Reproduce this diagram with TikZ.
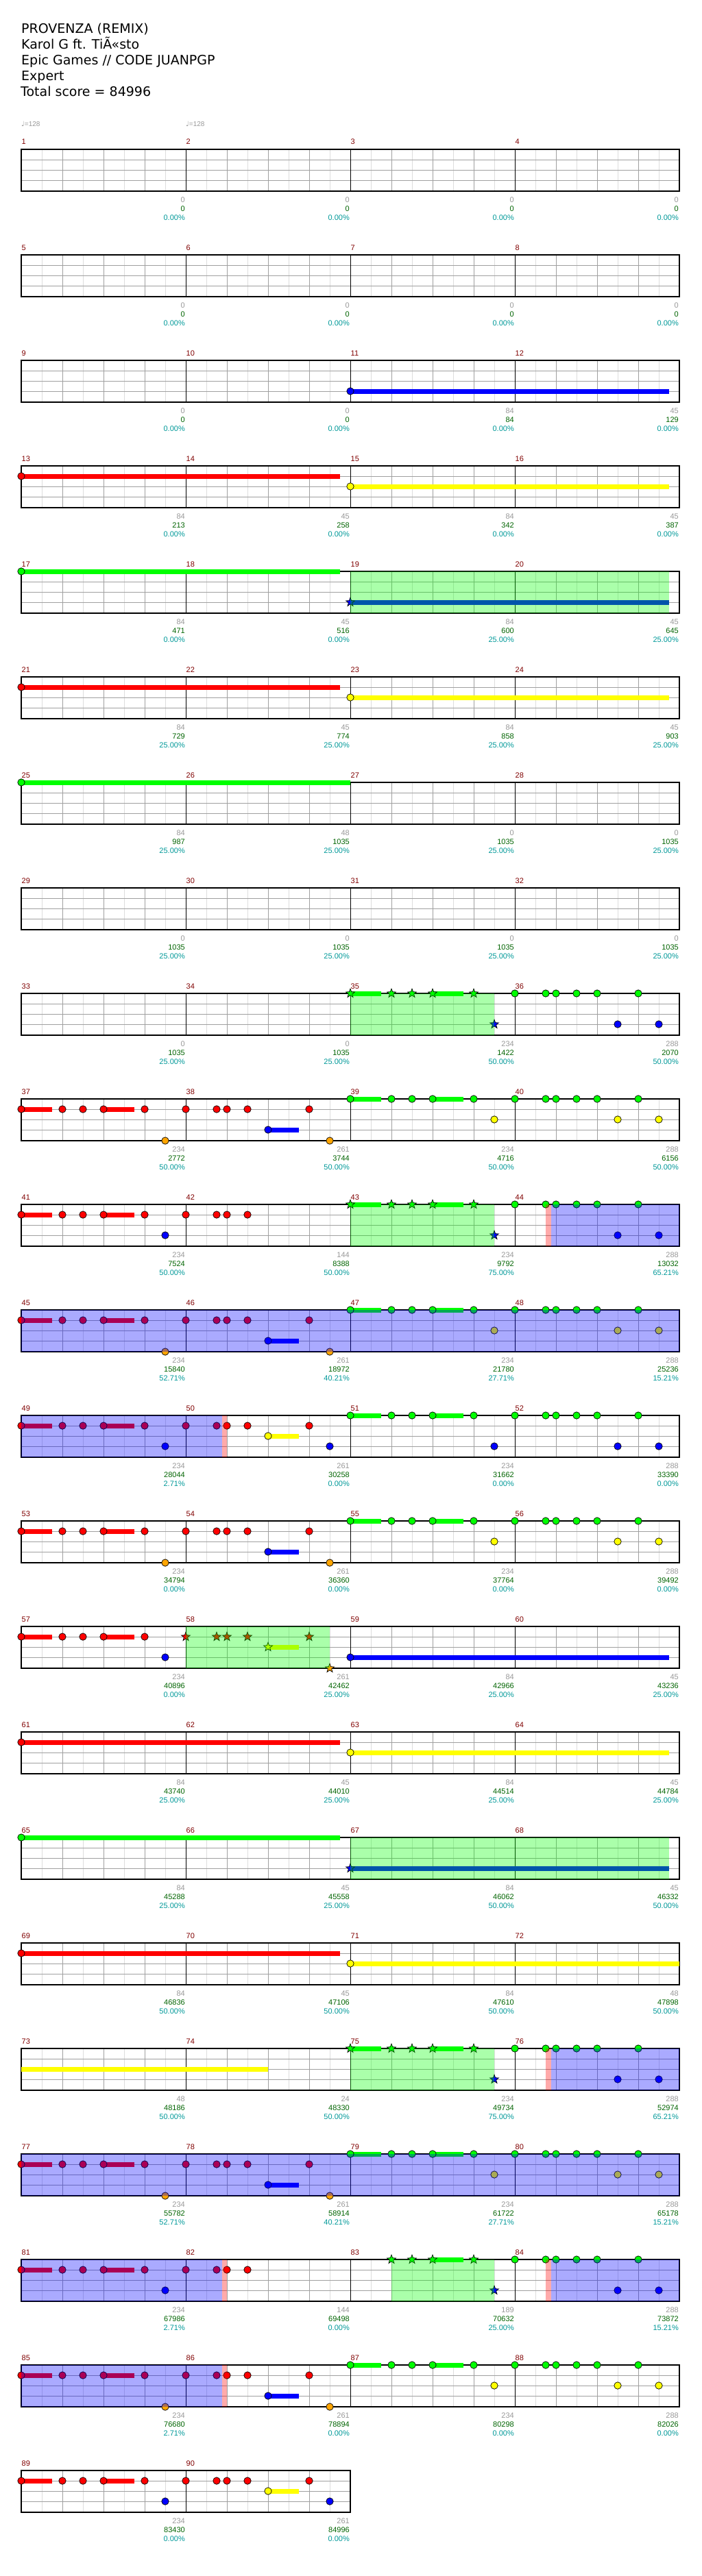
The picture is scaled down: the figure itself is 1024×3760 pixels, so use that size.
\documentclass[tikz,border=0pt]{standalone}
\usepackage{fontspec}
\setmainfont{DejaVu Sans}
\newfontfamily\chartfont{Liberation Sans}
\newfontfamily\glyphfont{DejaVu Sans}
\usepackage{tikz}
\usetikzlibrary{positioning}
\definecolor{fretgreen}{RGB}{0,255,0}
\definecolor{fretred}{RGB}{255,0,0}
\definecolor{fretyellow}{RGB}{255,255,0}
\definecolor{fretblue}{RGB}{0,0,255}
\definecolor{fretorange}{RGB}{255,165,0}
\definecolor{barred}{RGB}{128,0,0}
\definecolor{statgrey}{RGB}{153,153,153}
\definecolor{statgreen}{RGB}{0,100,0}
\definecolor{statteal}{RGB}{0,153,153}
\definecolor{gridlt}{RGB}{221,221,221}
\definecolor{gridmd}{RGB}{160,160,160}
\tikzset{
  titletext/.style={anchor=base west,inner sep=0,font=\fontsize{19}{23}\selectfont},
  tempotext/.style={anchor=base west,inner sep=0,text=statgrey,font=\chartfont\fontsize{10}{12}\selectfont},
  barnum/.style={anchor=base west,inner sep=0,text=barred,font=\chartfont\fontsize{11}{13}\selectfont},
  statline/.style={anchor=base east,inner sep=0,font=\chartfont\fontsize{11}{13}\selectfont},
  gridlight/.style={draw=gridlt,line width=1},
  gridbeat/.style={draw=gridmd,line width=1},
  barline/.style={draw=black,line width=0.9},
  staffframe/.style={draw=black,line width=1.3},
  gemline/.style={draw=black,line width=0.7},
  spzone/.style={fill=fretgreen,fill opacity=0.333},
  odzone/.style={fill=fretblue,fill opacity=0.333},
  odedge/.style={fill=fretred,fill opacity=0.333},
  rowat/.style={shift={(31,{218+154*#1})}}
}
\newcommand{\gemdot}[3]{\filldraw[gemline,fill=#1] (#2,#3) circle (5.2);}
\newcommand{\gemstar}[3]{\filldraw[gemline,fill=#1,shift={(#2,#3)}] (-90:6.8) -- (-54:2.8) -- (-18:6.8) -- (18:2.8)
  -- (54:6.8) -- (90:2.8) -- (126:6.8) -- (162:2.8) -- (198:6.8) -- (234:2.8) -- cycle;}
\newcommand{\sustain}[4]{\fill[#1] (#2,#3-3.5) rectangle ({#2+#4},{#3+3.5});}
\newcommand{\callrun}[4]{\sustain{#3}{#1}{#2}{45}\sustain{#3}{#1+120}{#2}{45}%
  \foreach \dt in {0,60,90,120,180}{#4{#3}{#1+\dt}{#2}}}
\newcommand{\replyred}[1]{\foreach \dt in {0,45,60,90}{\gemdot{fretred}{#1+\dt}{15}}}
\newcommand{\replygreen}[3]{\foreach \dt in {0,45,60,90,120,180}{\gemdot{fretgreen}{#1+\dt}{0}}%
  \gemdot{#2}{#1+150}{#3}\gemdot{#2}{#1+210}{#3}}
\newcommand{\halfA}{\callrun{0}{15}{fretred}{\gemdot}\gemdot{fretorange}{210}{61}%
  \replyred{240}\gemdot{fretred}{420}{15}%
  \sustain{fretblue}{360}{45}{45}\gemdot{fretblue}{360}{45}\gemdot{fretorange}{450}{61}}
\newcommand{\halfB}[2]{\callrun{480}{0}{fretgreen}{\gemdot}\gemdot{#1}{690}{#2}\replygreen{720}{#1}{#2}}
\newcommand{\halfC}{\callrun{0}{15}{fretred}{\gemdot}\gemdot{fretblue}{210}{45}%
  \replyred{240}\gemdot{fretred}{420}{15}%
  \sustain{fretyellow}{360}{30}{45}\gemdot{fretyellow}{360}{30}\gemdot{fretblue}{450}{45}}
\newcommand{\starturn}{\callrun{480}{0}{fretgreen}{\gemstar}\gemstar{fretblue}{690}{45}%
  \replygreen{720}{fretblue}{45}}
\newcommand{\tallyrow}[2]{%
  \begin{scope}[rowat=#1]
    \foreach \ptsv/\totv/\pctv [count=\k] in {#2}{%
      \node[statline,text=statgrey] (pts#1-\k) at (240*\k-1,77) {\ptsv};
      \node[statline,text=statgreen] (tot#1-\k) at (240*\k-1,90) {\totv};
      \node[statline,text=statteal] (pct#1-\k) at (240*\k-1,103) {\pctv\%};
    }
  \end{scope}}

\begin{document}
\begin{tikzpicture}[x=1pt,y=-1pt]
  \fill[white] (0,0) rectangle (1024,3760);
  \useasboundingbox (0,0) rectangle (1024,3760);
  \node[titletext] (songname) at (31,49) {PROVENZA (REMIX)};
  \node[titletext] (artist) at (31,72) {Karol G ft. TiÃ«sto};
  \node[titletext] (charter) at (31,95) {Epic Games // CODE JUANPGP};
  \node[titletext] (difficulty) at (31,118) {Expert};
  \node[titletext] (totalscore) at (30,141) {Total score = 84996};
  \node[tempotext] (tempo1) at (31,185) {{\glyphfont ♩}=128};
  \node[tempotext] (tempo2) at (271,185) {{\glyphfont ♩}=128};

  \foreach \r in {0,...,22}{
    \pgfmathtruncatemacro\n{\r==22 ? 2 : 4}
    \begin{scope}[rowat=\r]
      \pgfmathsetmacro\w{240*\n}
      \foreach \x in {30,90,...,\w}{\draw[gridlight] (\x,0) -- (\x,61);}
      \foreach \x in {60,120,...,\w}{\draw[gridbeat] (\x,0) -- (\x,61);}
      \foreach \y in {15,30,45}{\draw[gridbeat] (0,\y) -- (\w,\y);}
      \foreach \k in {1,...,\n}{
        \pgfmathsetmacro\mx{240*(\k-1)}
        \pgfmathtruncatemacro\num{4*\r+\k}
        \draw[barline] (\mx,0) -- (\mx,61);
        \node[barnum] (bar\num) at (\mx+0.5,-7) {\num};
      }
      \draw[staffframe] (0,0) rectangle (\w,61);
    \end{scope}
  }

  \begin{scope}[rowat=2]
    \sustain{fretblue}{480}{45}{465}\gemdot{fretblue}{480}{45}
  \end{scope}
  \begin{scope}[rowat=3]
    \sustain{fretred}{0}{15}{465}\gemdot{fretred}{0}{15}
    \sustain{fretyellow}{480}{30}{465}\gemdot{fretyellow}{480}{30}
  \end{scope}
  \begin{scope}[rowat=4]
    \sustain{fretgreen}{0}{0}{465}\gemdot{fretgreen}{0}{0}
    \sustain{fretblue}{480}{45}{465}\gemstar{fretblue}{480}{45}
    \fill[spzone] (480,0) rectangle (945,61);
  \end{scope}
  \begin{scope}[rowat=5]
    \sustain{fretred}{0}{15}{465}\gemdot{fretred}{0}{15}
    \sustain{fretyellow}{480}{30}{465}\gemdot{fretyellow}{480}{30}
  \end{scope}
  \begin{scope}[rowat=6]
    \sustain{fretgreen}{0}{0}{480}\gemdot{fretgreen}{0}{0}
  \end{scope}
  \begin{scope}[rowat=8]
    \starturn
    \fill[spzone] (480,0) rectangle (690,61);
  \end{scope}
  \begin{scope}[rowat=9]
    \halfA\halfB{fretyellow}{30}
  \end{scope}
  \begin{scope}[rowat=10]
    \callrun{0}{15}{fretred}{\gemdot}\gemdot{fretblue}{210}{45}\replyred{240}
    \starturn
    \fill[spzone] (480,0) rectangle (690,61);
    \fill[odedge] (765,0) rectangle (772.5,61);
    \fill[odzone] (772.5,0) rectangle (960,61);
  \end{scope}
  \begin{scope}[rowat=11]
    \halfA\halfB{fretyellow}{30}
    \fill[odzone] (0,0) rectangle (960,61);
  \end{scope}
  \begin{scope}[rowat=12]
    \halfC\halfB{fretblue}{45}
    \fill[odzone] (0,0) rectangle (292.5,61);
    \fill[odedge] (292.5,0) rectangle (300,61);
  \end{scope}
  \begin{scope}[rowat=13]
    \halfA\halfB{fretyellow}{30}
  \end{scope}
  \begin{scope}[rowat=14]
    \callrun{0}{15}{fretred}{\gemdot}\gemdot{fretblue}{210}{45}
    \foreach \dt in {0,45,60,90,180}{\gemstar{fretred}{240+\dt}{15}}
    \sustain{fretyellow}{360}{30}{45}\gemstar{fretyellow}{360}{30}
    \gemstar{fretorange}{450}{61}
    \sustain{fretblue}{480}{45}{465}\gemdot{fretblue}{480}{45}
    \fill[spzone] (240,0) rectangle (450,61);
  \end{scope}
  \begin{scope}[rowat=15]
    \sustain{fretred}{0}{15}{465}\gemdot{fretred}{0}{15}
    \sustain{fretyellow}{480}{30}{465}\gemdot{fretyellow}{480}{30}
  \end{scope}
  \begin{scope}[rowat=16]
    \sustain{fretgreen}{0}{0}{465}\gemdot{fretgreen}{0}{0}
    \sustain{fretblue}{480}{45}{465}\gemstar{fretblue}{480}{45}
    \fill[spzone] (480,0) rectangle (945,61);
  \end{scope}
  \begin{scope}[rowat=17]
    \sustain{fretred}{0}{15}{465}\gemdot{fretred}{0}{15}
    \sustain{fretyellow}{480}{30}{480}\gemdot{fretyellow}{480}{30}
  \end{scope}
  \begin{scope}[rowat=18]
    \sustain{fretyellow}{0}{30}{360}
    \starturn
    \fill[spzone] (480,0) rectangle (690,61);
    \fill[odedge] (765,0) rectangle (772.5,61);
    \fill[odzone] (772.5,0) rectangle (960,61);
  \end{scope}
  \begin{scope}[rowat=19]
    \halfA\halfB{fretyellow}{30}
    \fill[odzone] (0,0) rectangle (960,61);
  \end{scope}
  \begin{scope}[rowat=20]
    \callrun{0}{15}{fretred}{\gemdot}\gemdot{fretblue}{210}{45}\replyred{240}
    \sustain{fretgreen}{600}{0}{45}
    \foreach \dt in {60,90,120,180}{\gemstar{fretgreen}{480+\dt}{0}}
    \gemstar{fretblue}{690}{45}\replygreen{720}{fretblue}{45}
    \fill[spzone] (540,0) rectangle (690,61);
    \fill[odzone] (0,0) rectangle (292.5,61);
    \fill[odedge] (292.5,0) rectangle (300,61);
    \fill[odedge] (765,0) rectangle (772.5,61);
    \fill[odzone] (772.5,0) rectangle (960,61);
  \end{scope}
  \begin{scope}[rowat=21]
    \halfA\halfB{fretyellow}{30}
    \fill[odzone] (0,0) rectangle (292.5,61);
    \fill[odedge] (292.5,0) rectangle (300,61);
  \end{scope}
  \begin{scope}[rowat=22]
    \halfC
  \end{scope}

  \tallyrow{0}{0/0/0.00,0/0/0.00,0/0/0.00,0/0/0.00}
  \tallyrow{1}{0/0/0.00,0/0/0.00,0/0/0.00,0/0/0.00}
  \tallyrow{2}{0/0/0.00,0/0/0.00,84/84/0.00,45/129/0.00}
  \tallyrow{3}{84/213/0.00,45/258/0.00,84/342/0.00,45/387/0.00}
  \tallyrow{4}{84/471/0.00,45/516/0.00,84/600/25.00,45/645/25.00}
  \tallyrow{5}{84/729/25.00,45/774/25.00,84/858/25.00,45/903/25.00}
  \tallyrow{6}{84/987/25.00,48/1035/25.00,0/1035/25.00,0/1035/25.00}
  \tallyrow{7}{0/1035/25.00,0/1035/25.00,0/1035/25.00,0/1035/25.00}
  \tallyrow{8}{0/1035/25.00,0/1035/25.00,234/1422/50.00,288/2070/50.00}
  \tallyrow{9}{234/2772/50.00,261/3744/50.00,234/4716/50.00,288/6156/50.00}
  \tallyrow{10}{234/7524/50.00,144/8388/50.00,234/9792/75.00,288/13032/65.21}
  \tallyrow{11}{234/15840/52.71,261/18972/40.21,234/21780/27.71,288/25236/15.21}
  \tallyrow{12}{234/28044/2.71,261/30258/0.00,234/31662/0.00,288/33390/0.00}
  \tallyrow{13}{234/34794/0.00,261/36360/0.00,234/37764/0.00,288/39492/0.00}
  \tallyrow{14}{234/40896/0.00,261/42462/25.00,84/42966/25.00,45/43236/25.00}
  \tallyrow{15}{84/43740/25.00,45/44010/25.00,84/44514/25.00,45/44784/25.00}
  \tallyrow{16}{84/45288/25.00,45/45558/25.00,84/46062/50.00,45/46332/50.00}
  \tallyrow{17}{84/46836/50.00,45/47106/50.00,84/47610/50.00,48/47898/50.00}
  \tallyrow{18}{48/48186/50.00,24/48330/50.00,234/49734/75.00,288/52974/65.21}
  \tallyrow{19}{234/55782/52.71,261/58914/40.21,234/61722/27.71,288/65178/15.21}
  \tallyrow{20}{234/67986/2.71,144/69498/0.00,189/70632/25.00,288/73872/15.21}
  \tallyrow{21}{234/76680/2.71,261/78894/0.00,234/80298/0.00,288/82026/0.00}
  \tallyrow{22}{234/83430/0.00,261/84996/0.00}
\end{tikzpicture}
\end{document}
